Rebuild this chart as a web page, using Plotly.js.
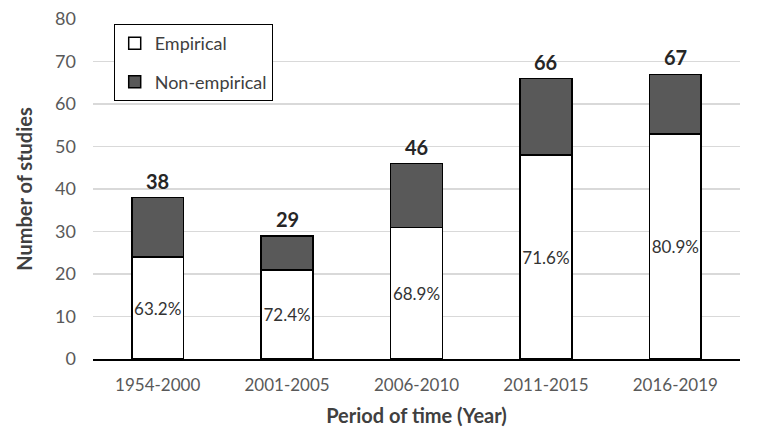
<!DOCTYPE html>
<html>
<head>
<meta charset="utf-8">
<script src="https://cdn.plot.ly/plotly-3.0.1.min.js"></script>
<style>
  body { margin: 0; background: #fff; }
  #chart { width: 765px; height: 440px; }
</style>
</head>
<body>
<div id="chart"></div>
<script>
// Data
const periods = ["1954-2000", "2001-2005", "2006-2010", "2011-2015", "2016-2019"];
const empirical = [24, 21, 31, 48, 53];
const nonEmpirical = [14, 8, 15, 18, 14];
const totals = [38, 29, 46, 66, 67];
const empiricalShare = ["63.2%", "72.4%", "68.9%", "71.6%", "80.9%"];

const font = "Lato, 'Open Sans', sans-serif";

const traces = [
  {
    type: "bar",
    name: "Empirical",
    x: periods,
    y: empirical,
    text: empiricalShare,
    textposition: "inside",
    insidetextanchor: "middle",
    textangle: 0,
    constraintext: "none",
    textfont: { family: font, size: 17, color: "#333333" },
    marker: { color: "#ffffff", line: { color: "#000000", width: 1.5 } },
    legendgroup: "a",
    hoverinfo: "y"
  },
  {
    type: "bar",
    name: "Non-empirical",
    x: periods,
    y: nonEmpirical,
    marker: { color: "#595959", line: { color: "#000000", width: 1.5 } },
    legendgroup: "b",
    hoverinfo: "y"
  }
];

// total count above each bar
const annotations = periods.map((p, i) => ({
  x: p,
  y: totals[i],
  text: "<b>" + totals[i] + "</b>",
  showarrow: false,
  yanchor: "bottom",
  yshift: 3,
  font: { family: font, size: 20, color: "#262626" }
}));

const layout = {
  width: 765,
  height: 440,
  margin: { l: 93, r: 25, t: 19, b: 81 },
  paper_bgcolor: "#ffffff",
  plot_bgcolor: "#ffffff",
  barmode: "stack",
  bargap: 0.6,
  font: { family: font, color: "#595959" },
  xaxis: {
    type: "category",
    tickfont: { family: font, size: 17, color: "#595959" },
    showline: true,
    linecolor: "#000000",
    linewidth: 2,
    ticks: "",
    ticklabelstandoff: 10,
    title: {
      text: "<b>Period of time (Year)</b>",
      font: { family: font, size: 20, color: "#404040" },
      standoff: 15
    }
  },
  yaxis: {
    range: [0, 80],
    dtick: 10,
    showgrid: true,
    gridcolor: "#d9d9d9",
    gridwidth: 1.5,
    zeroline: false,
    tickfont: { family: font, size: 18, color: "#595959" },
    ticks: "",
    ticklabelstandoff: 16,
    title: {
      text: "<b>Number of studies</b>",
      font: { family: font, size: 20, color: "#404040" },
      standoff: 17
    }
  },
  legend: {
    x: 0.032,
    y: 0.985,
    xanchor: "left",
    yanchor: "top",
    traceorder: "grouped",
    tracegroupgap: 12,
    bgcolor: "#ffffff",
    bordercolor: "#000000",
    borderwidth: 1,
    font: { family: font, size: 18, color: "#404040" }
  },
  annotations: annotations
};

Plotly.newPlot("chart", traces, layout, { displayModeBar: false, staticPlot: true });
</script>
</body>
</html>
